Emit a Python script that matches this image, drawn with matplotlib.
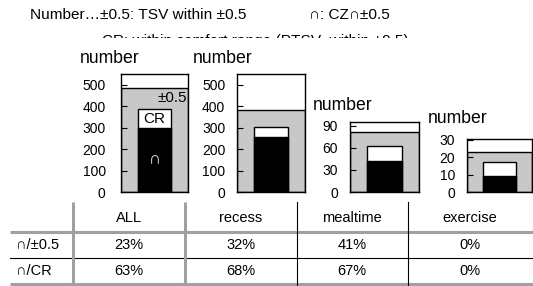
import matplotlib
matplotlib.use("Agg")
import matplotlib.pyplot as plt
from matplotlib.patches import Rectangle

plt.rcParams['font.family'] = ['Liberation Sans', 'DejaVu Sans']

# ---- data ----
categories = ["ALL", "recess", "mealtime", "exercise"]
within_05 = [485, 380, 82, 23]      # TSV within ±0.5 (gray)
within_cr = [385, 305, 62, 17]      # within comfort range (white)
intersect = [300, 255, 42, 9]       # CZ ∩ ±0.5 (black)
ylims = [550, 550, 95, 30.5]
yticks = [[0, 100, 200, 300, 400, 500],
          [0, 100, 200, 300, 400, 500],
          [0, 30, 60, 90],
          [0, 10, 20, 30]]
row_labels = ["∩/±0.5", "∩/CR"]
row1 = ["23%", "32%", "41%", "0%"]
row2 = ["63%", "68%", "67%", "0%"]

W, H = 533, 286
fig = plt.figure(figsize=(W / 100, H / 100), dpi=100)

# overlay axes in pixel coordinates (for texts and table lines)
ov = fig.add_axes([0, 0, 1, 1], zorder=0)
ov.set_xlim(0, W)
ov.set_ylim(H, 0)
ov.axis('off')

# header texts
ov.text(30, 19, "Number…±0.5: TSV within ±0.5", fontsize=11.1, va='baseline', ha='left')
ov.text(309, 19, "∩: CZ∩±0.5", fontsize=11.1, va='baseline', ha='left')
ov.text(102, 45, "CR: within comfort range (PTSV  within ±0.5)", fontsize=11.1,
        va='baseline', ha='left', zorder=1)
ov.add_patch(Rectangle((90, 38), 360, 12, facecolor='white', edgecolor='none', zorder=2))

# panel geometry in pixels: (left, top, right, bottom)
boxes = [(121, 74, 188, 192), (237, 74, 305, 192),
         (350, 122, 419, 192), (467, 139, 532, 192)]
number_pos = [(80, 63), (193, 63), (313, 110.5), (428, 123)]
pads = [11, 8.5, 8.5, 8.5]
gray = '#c8c8c8'

for i, cat in enumerate(categories):
    l, t, r, b = boxes[i]
    ax = fig.add_axes([l / W, (H - b) / H, (r - l) / W, (b - t) / H], zorder=3)
    ax.set_xlim(-0.5, 0.5)
    ax.set_ylim(0, ylims[i])
    ax.bar([0], [within_05[i]], width=1.0, color=gray, edgecolor='black', linewidth=1)
    ax.bar([0], [within_cr[i]], width=0.5, color='white', edgecolor='black', linewidth=1)
    ax.bar([0], [intersect[i]], width=0.5, color='black', edgecolor='black', linewidth=1)
    ax.set_xticks([])
    ax.set_yticks(yticks[i])
    ax.tick_params(axis='y', direction='in', length=4, width=0.8, labelsize=10, pad=pads[i])
    for s in ax.spines.values():
        s.set_linewidth(1)
    ov.text(number_pos[i][0], number_pos[i][1], "number", fontsize=12.7,
            va='baseline', ha='left')
    if i == 0:
        ax.text(0.48, within_05[i] - 12, "±0.5", fontsize=11, ha='right', va='top')
        ax.text(0, (within_cr[i] + intersect[i]) / 2, "CR", fontsize=11,
                ha='center', va='center')
        ax.text(0, intersect[i] / 2, "∩", fontsize=12, color='white',
                ha='center', va='center')

# table
tgray = '#a0a0a0'
ov.plot([10, W], [231.7, 231.7], color=tgray, lw=2.2, solid_capstyle='butt')
ov.plot([10, W], [258, 258], color='black', lw=0.8)
ov.plot([10, W], [284, 284], color=tgray, lw=2.2, solid_capstyle='butt')
for x in (72.7, 185):
    ov.plot([x, x], [202, 285], color=tgray, lw=2.2, solid_capstyle='butt')
for x in (296.7, 408):
    ov.plot([x, x], [202, 285], color='black', lw=0.8)
col_centers = [129, 241, 352, 470]
fs = 10.5
for c, cat in enumerate(categories):
    ov.text(col_centers[c], 218, cat, fontsize=fs, ha='center', va='center')
    ov.text(col_centers[c], 245, row1[c], fontsize=fs, ha='center', va='center')
    ov.text(col_centers[c], 271, row2[c], fontsize=fs, ha='center', va='center')
ov.text(16, 245, row_labels[0], fontsize=fs, ha='left', va='center')
ov.text(16, 271, row_labels[1], fontsize=fs, ha='left', va='center')

fig.savefig("out.png", dpi=100)
